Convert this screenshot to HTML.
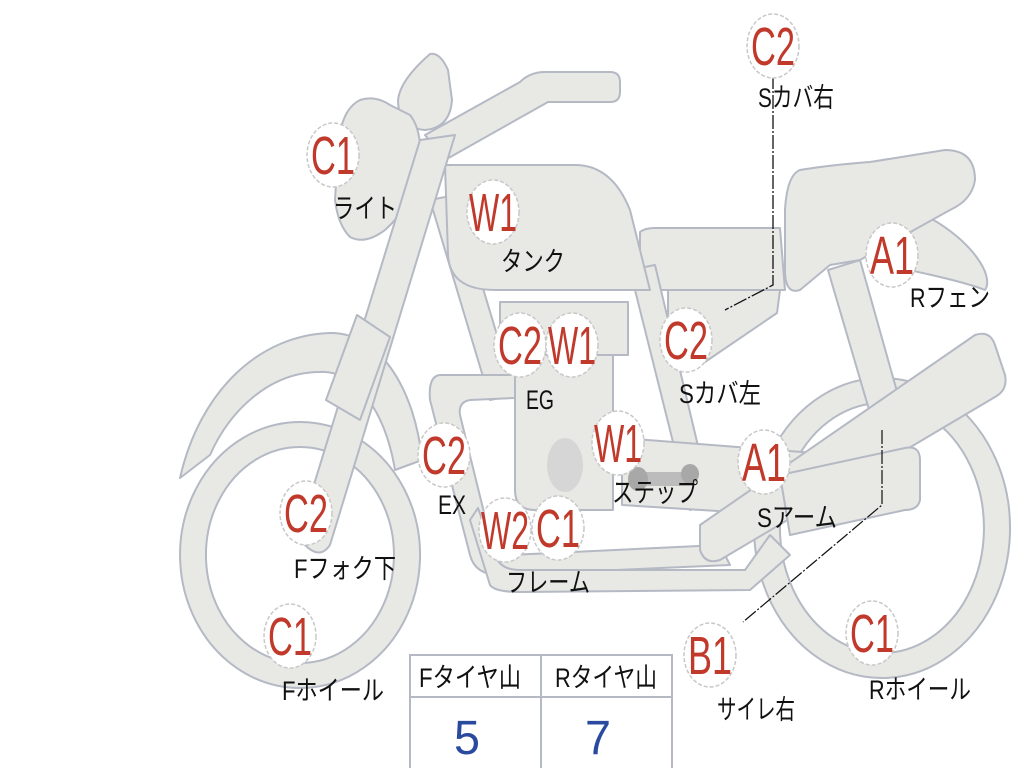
<!DOCTYPE html>
<html><head><meta charset="utf-8"><style>
html,body{margin:0;padding:0;background:#fff;width:1024px;height:768px;overflow:hidden}
svg{display:block}
.p{fill:#e8e8e5;stroke:#b4b9c4;stroke-width:2;stroke-linejoin:round}
.c{fill:#fff;stroke:#c8c8c8;stroke-width:1.5;stroke-dasharray:4 2}
.r{fill:#c0392b;font-family:"Liberation Sans",sans-serif;font-size:54px;text-anchor:middle}
.k{fill:#111;font-family:"Liberation Sans","Noto Sans CJK JP",sans-serif;font-size:27px;text-anchor:middle}
.b{fill:#2a4aa0;font-family:"Liberation Sans",sans-serif;font-size:48px;text-anchor:middle}
</style></head><body>
<svg width="1024" height="768" viewBox="0 0 1024 768" xmlns="http://www.w3.org/2000/svg">
<path class="p" fill-rule="evenodd" d="M300 422 a120 133 0 1 0 0.1 0Z M300 447 a94 108 0 1 1 -0.1 0Z"/>
<path class="p" fill-rule="evenodd" d="M882 378 a128 150 0 1 0 0.1 0Z M882 403 a102 125 0 1 1 -0.1 0Z"/>
<path class="p" d="M180 478 C200 390 260 335 330 333 C380 332 415 390 422 460 L395 470 C385 410 355 370 320 372 C270 372 230 410 210 455 Z"/>
<path class="p" d="M828 270 L860 260 L905 420 L875 430 Z"/>
<path class="p" d="M640 232 Q645 228 655 228 L780 228 L785 290 L650 290 Q640 290 640 280 Z"/>
<path class="p" d="M668 290 L780 290 L777 313 L705 362 L668 362 Z"/>
<path class="p" d="M930 218 C970 240 995 275 985 290 C960 280 900 268 870 262 Z"/>
<path class="p" d="M800 170 Q830 165 870 162 L945 150 Q975 150 975 180 Q972 200 950 210 L860 260 L830 265 L800 290 Q785 295 785 270 L785 210 Q787 175 800 170 Z"/>
<path class="p" d="M430 200 L455 195 L515 395 L490 400 Z"/>
<path class="p" d="M630 270 L655 265 L712 505 L690 510 Z"/>
<path class="p" d="M445 165 L575 165 Q612 165 630 210 L650 290 L495 290 Q450 290 448 255 Z"/>
<path class="p" d="M500 302 L628 302 L628 355 L500 355 Z"/>
<path class="p" d="M515 355 L613 355 L613 510 L535 510 Q515 510 515 490 Z"/>
<ellipse cx="565" cy="465" rx="18" ry="27" fill="#d6d6d6"/>
<path class="p" d="M622 438 L840 455 L860 520 L622 505 Z"/>
<path class="p" d="M440 375 L515 375 L515 398 L470 400 Q458 402 460 415 L492 545 Q495 555 510 555 L720 545 L730 565 L500 575 Q475 575 470 555 L430 400 Q428 376 440 375 Z"/>
<path class="p" d="M470 520 L490 585 Q495 592 520 592 L750 590 L790 555 L770 535 L745 570 L520 570 Q500 570 495 555 L478 508 Z"/>
<path class="p" d="M700 525 L975 335 Q990 330 995 345 L1005 375 Q1008 390 995 397 L720 560 Q705 565 700 550 Z"/>
<path class="p" d="M780 475 L905 448 Q920 445 920 460 L920 500 Q918 510 905 510 L790 535 Z"/>
<path d="M630 472 L690 472 L692 486 L632 486Z" fill="#bcbcbc"/>
<ellipse cx="638" cy="479" rx="10" ry="12" fill="#a8a8a8"/>
<ellipse cx="690" cy="474" rx="9" ry="10" fill="#a8a8a8"/>
<path class="p" d="M425 135 L520 82 Q530 72 545 72 L610 72 Q620 72 620 82 L620 92 Q620 102 610 102 L548 102 L445 160 Z"/>
<path class="p" d="M430 54 Q440 52 448 70 L452 100 Q450 128 425 130 Q398 128 398 100 Q400 80 430 54 Z"/>
<path class="p" d="M360 100 Q375 95 390 105 L410 115 Q422 130 420 160 Q418 200 385 230 Q365 245 350 237 Q338 225 335 200 L338 150 Q340 110 360 100 Z"/>
<path class="p" d="M420 140 L455 135 L330 545 Q320 560 305 545 L300 530 Z"/>
<path class="p" d="M357 315 L390 337 L360 420 L326 400 Z"/>
<polyline points="773,75 773,285 725,310" fill="none" stroke="#111" stroke-width="1.3" stroke-dasharray="14 2 2 2"/>
<polyline points="882,430 882,505 743,622" fill="none" stroke="#111" stroke-width="1.2" stroke-dasharray="14 2 2 2"/>
<g>
<ellipse class="c" cx="773" cy="46" rx="26" ry="32"/><text class="r" x="773" y="65" textLength="44" lengthAdjust="spacingAndGlyphs">C2</text>
<ellipse class="c" cx="333" cy="155" rx="26" ry="32"/><text class="r" x="333" y="174" textLength="44" lengthAdjust="spacingAndGlyphs">C1</text>
<ellipse class="c" cx="493" cy="212" rx="26" ry="32"/><text class="r" x="493" y="231" textLength="48" lengthAdjust="spacingAndGlyphs">W1</text>
<ellipse class="c" cx="520" cy="345" rx="26" ry="32"/><text class="r" x="520" y="364" textLength="44" lengthAdjust="spacingAndGlyphs">C2</text>
<ellipse class="c" cx="572" cy="345" rx="26" ry="32"/><text class="r" x="572" y="364" textLength="48" lengthAdjust="spacingAndGlyphs">W1</text>
<ellipse class="c" cx="686" cy="340" rx="26" ry="32"/><text class="r" x="686" y="359" textLength="44" lengthAdjust="spacingAndGlyphs">C2</text>
<ellipse class="c" cx="444" cy="455" rx="26" ry="32"/><text class="r" x="444" y="474" textLength="44" lengthAdjust="spacingAndGlyphs">C2</text>
<ellipse class="c" cx="618" cy="443" rx="26" ry="32"/><text class="r" x="618" y="462" textLength="48" lengthAdjust="spacingAndGlyphs">W1</text>
<ellipse class="c" cx="764" cy="462" rx="26" ry="32"/><text class="r" x="764" y="481" textLength="44" lengthAdjust="spacingAndGlyphs">A1</text>
<ellipse class="c" cx="306" cy="513" rx="26" ry="32"/><text class="r" x="306" y="532" textLength="44" lengthAdjust="spacingAndGlyphs">C2</text>
<ellipse class="c" cx="505" cy="530" rx="26" ry="32"/><text class="r" x="505" y="549" textLength="48" lengthAdjust="spacingAndGlyphs">W2</text>
<ellipse class="c" cx="558" cy="528" rx="26" ry="32"/><text class="r" x="558" y="547" textLength="44" lengthAdjust="spacingAndGlyphs">C1</text>
<ellipse class="c" cx="290" cy="636" rx="26" ry="32"/><text class="r" x="290" y="655" textLength="44" lengthAdjust="spacingAndGlyphs">C1</text>
<ellipse class="c" cx="710" cy="655" rx="26" ry="32"/><text class="r" x="710" y="674" textLength="44" lengthAdjust="spacingAndGlyphs">B1</text>
<ellipse class="c" cx="872" cy="633" rx="26" ry="32"/><text class="r" x="872" y="652" textLength="44" lengthAdjust="spacingAndGlyphs">C1</text>
<ellipse class="c" cx="892" cy="255" rx="26" ry="32"/><text class="r" x="892" y="274" textLength="44" lengthAdjust="spacingAndGlyphs">A1</text>
</g>
<g>
<text class="k" x="796" y="107" textLength="76" lengthAdjust="spacingAndGlyphs">Sカバ右</text>
<text class="k" x="365" y="218" textLength="64" lengthAdjust="spacingAndGlyphs">ライト</text>
<text class="k" x="533" y="271" textLength="64" lengthAdjust="spacingAndGlyphs">タンク</text>
<text class="k" x="540" y="409" textLength="28" lengthAdjust="spacingAndGlyphs">EG</text>
<text class="k" x="720" y="403" textLength="82" lengthAdjust="spacingAndGlyphs">Sカバ左</text>
<text class="k" x="452" y="514" textLength="28" lengthAdjust="spacingAndGlyphs">EX</text>
<text class="k" x="655" y="502" textLength="86" lengthAdjust="spacingAndGlyphs">ステップ</text>
<text class="k" x="797" y="527" textLength="80" lengthAdjust="spacingAndGlyphs">Sアーム</text>
<text class="k" x="345" y="578" textLength="102" lengthAdjust="spacingAndGlyphs">Fフォク下</text>
<text class="k" x="548" y="592" textLength="84" lengthAdjust="spacingAndGlyphs">フレーム</text>
<text class="k" x="333" y="700" textLength="102" lengthAdjust="spacingAndGlyphs">Fホイール</text>
<text class="k" x="756" y="719" textLength="78" lengthAdjust="spacingAndGlyphs">サイレ右</text>
<text class="k" x="920" y="699" textLength="102" lengthAdjust="spacingAndGlyphs">Rホイール</text>
<text class="k" x="950" y="307" textLength="80" lengthAdjust="spacingAndGlyphs">Rフェン</text>
</g>
<rect x="410" y="655" width="262" height="114" fill="#fff" stroke="#b4b9c4" stroke-width="2"/>
<line x1="410" y1="697" x2="672" y2="697" stroke="#b4b9c4" stroke-width="2"/>
<line x1="541" y1="655" x2="541" y2="768" stroke="#b4b9c4" stroke-width="2"/>
<text class="k" x="470" y="687" textLength="102" lengthAdjust="spacingAndGlyphs">Fタイヤ山</text>
<text class="k" x="606" y="687" textLength="102" lengthAdjust="spacingAndGlyphs">Rタイヤ山</text>
<text class="b" x="467" y="754" textLength="26" lengthAdjust="spacingAndGlyphs">5</text>
<text class="b" x="598" y="754" textLength="26" lengthAdjust="spacingAndGlyphs">7</text>
</svg>
</body></html>
